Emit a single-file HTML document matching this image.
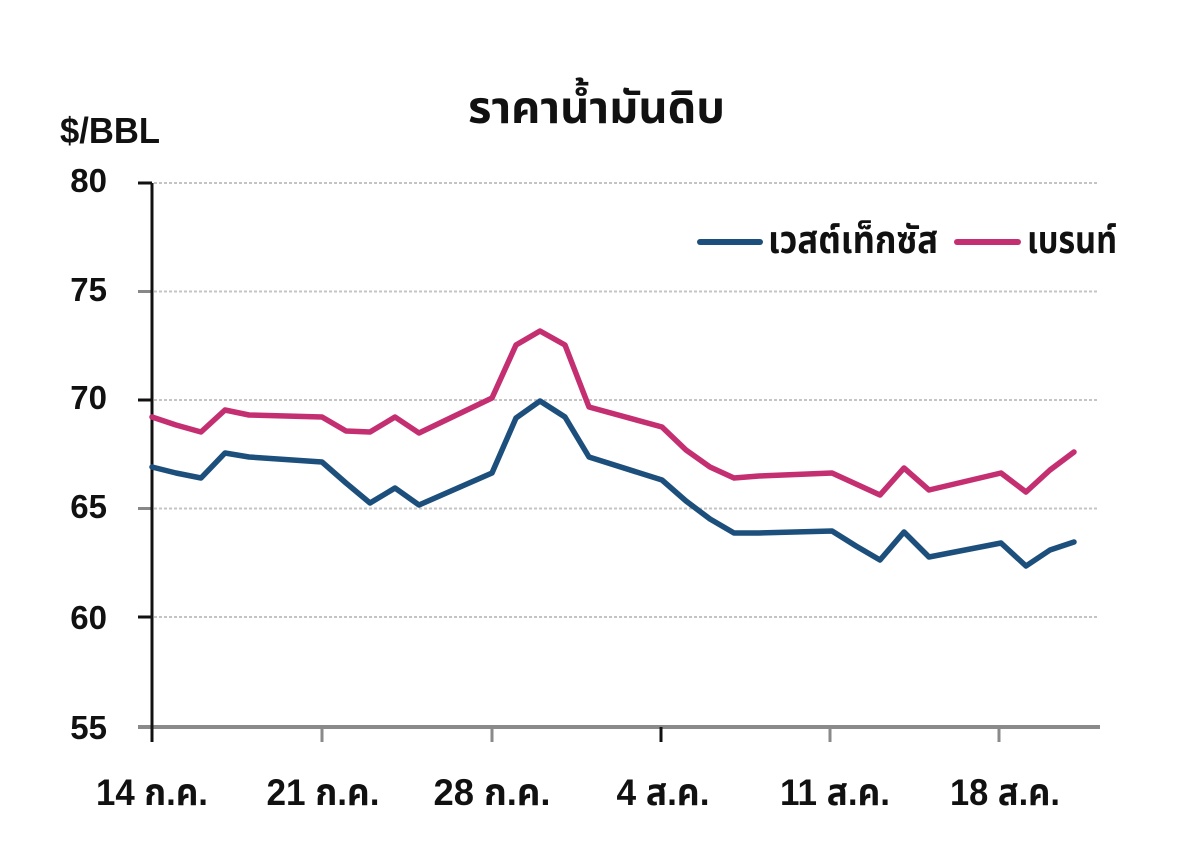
<!DOCTYPE html>
<html>
<head>
<meta charset="utf-8">
<style>
  html, body { margin:0; padding:0; background:#fff; }
  svg { display:block; }
  text { font-family: "Liberation Sans", "Noto Sans Thai", "Loma", "Garuda", "Tlwg Typo", "DejaVu Sans", sans-serif; font-weight:bold; fill:#111; }
</style>
</head>
<body>
<svg width="1200" height="865" viewBox="0 0 1200 865" xmlns="http://www.w3.org/2000/svg">
  <rect x="0" y="0" width="1200" height="865" fill="#fff"/>

  <!-- Title -->
  <text x="468" y="123" font-size="44" textLength="257" lengthAdjust="spacingAndGlyphs">ราคาน้ำมันดิบ</text>
  <!-- Unit -->
  <text x="60" y="143" font-size="36" textLength="100" lengthAdjust="spacingAndGlyphs">$/BBL</text>

  <!-- Gridlines -->
  <g stroke="#c4c4c4" stroke-width="2" stroke-dasharray="3 2">
    <line x1="154" y1="183" x2="1098" y2="183"/>
    <line x1="154" y1="291.5" x2="1098" y2="291.5"/>
    <line x1="154" y1="400" x2="1098" y2="400"/>
    <line x1="154" y1="508.5" x2="1098" y2="508.5"/>
    <line x1="154" y1="617" x2="1098" y2="617"/>
  </g>

  <!-- Y ticks -->
  <line x1="138" y1="183" x2="152" y2="183" stroke="#111" stroke-width="3"/>
  <line x1="138" y1="291.5" x2="152" y2="291.5" stroke="#888" stroke-width="3"/>
  <line x1="138" y1="400" x2="152" y2="400" stroke="#111" stroke-width="3"/>
  <line x1="138" y1="508.5" x2="152" y2="508.5" stroke="#888" stroke-width="3"/>
  <line x1="138" y1="617" x2="152" y2="617" stroke="#111" stroke-width="3"/>

  <!-- X axis -->
  <line x1="138" y1="727" x2="1100" y2="727" stroke="#8a8a8a" stroke-width="4"/>
  <g stroke="#8a8a8a" stroke-width="3">
    <line x1="322" y1="727" x2="322" y2="742"/>
    <line x1="492" y1="727" x2="492" y2="742"/>
    <line x1="830" y1="727" x2="830" y2="742"/>
    <line x1="999" y1="727" x2="999" y2="742"/>
  </g>
  <line x1="661" y1="727" x2="661" y2="742" stroke="#111" stroke-width="3"/>
  <!-- Y axis -->
  <line x1="152" y1="183" x2="152" y2="742" stroke="#111" stroke-width="3"/>

  <!-- Y labels -->
  <g font-size="33" text-anchor="end">
    <text x="107" y="192">80</text>
    <text x="107" y="301">75</text>
    <text x="107" y="409">70</text>
    <text x="107" y="518">65</text>
    <text x="107" y="629">60</text>
    <text x="107" y="739">55</text>
  </g>

  <!-- X labels -->
  <g font-size="37" text-anchor="middle">
    <text x="152" y="805" textLength="112" lengthAdjust="spacingAndGlyphs">14 ก.ค.</text>
    <text x="323" y="805" textLength="113" lengthAdjust="spacingAndGlyphs">21 ก.ค.</text>
    <text x="492" y="805" textLength="117" lengthAdjust="spacingAndGlyphs">28 ก.ค.</text>
    <text x="663" y="805" textLength="93" lengthAdjust="spacingAndGlyphs">4 ส.ค.</text>
    <text x="835" y="805" textLength="110" lengthAdjust="spacingAndGlyphs">11 ส.ค.</text>
    <text x="1005" y="805" textLength="110" lengthAdjust="spacingAndGlyphs">18 ส.ค.</text>
  </g>

  <!-- Brent series -->
  <polyline fill="none" stroke="#c42f72" stroke-width="5.5" stroke-linejoin="round" stroke-linecap="round"
    points="152,417 176,425 201,432 225,410 249,415 322,417 346,431 370,432 395,417 419,433 492,398 516,345 540,331 565,345 589,407 662,427 686,450 710,467 734,478 759,476 832,473 856,484 880,495 904,468 929,490 1001,473 1026,492 1050,470 1074,452"/>

  <!-- WTI series -->
  <polyline fill="none" stroke="#1d4f7c" stroke-width="5.5" stroke-linejoin="round" stroke-linecap="round"
    points="152,467 176,473 201,478 225,453 249,457 322,462 346,483 370,503 395,488 419,505 492,473 516,418 540,401 565,417 589,457 662,480 686,501 710,519 734,533 759,533 832,531 856,546 880,560 904,532 929,557 1001,543 1026,566 1050,550 1074,542"/>

  <!-- Legend -->
  <line x1="700" y1="242" x2="760" y2="242" stroke="#1d4f7c" stroke-width="6" stroke-linecap="round"/>
  <text x="768" y="253" font-size="38" textLength="170" lengthAdjust="spacingAndGlyphs">เวสต์เท็กซัส</text>
  <line x1="957" y1="242" x2="1018" y2="242" stroke="#c42f72" stroke-width="6" stroke-linecap="round"/>
  <text x="1027" y="253" font-size="38" textLength="90" lengthAdjust="spacingAndGlyphs">เบรนท์</text>
</svg>
</body>
</html>
